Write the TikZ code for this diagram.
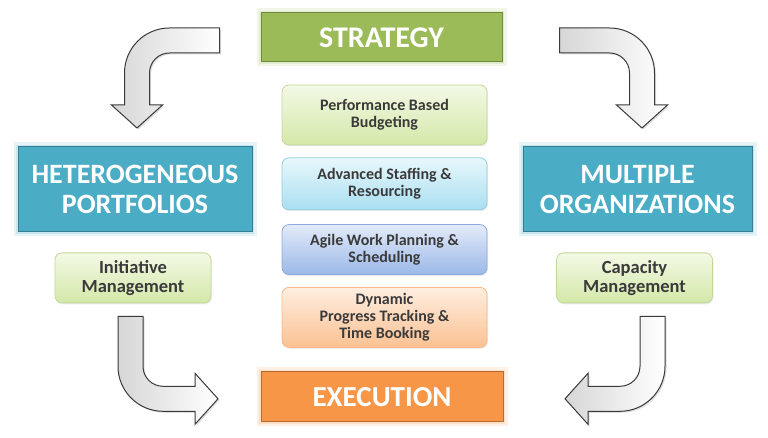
\documentclass[tikz,border=0pt]{standalone}
\usepackage{fontspec}
\setmainfont{Carlito}
\usetikzlibrary{positioning,calc,shadows}

\definecolor{stratfill}{HTML}{9BBB59}
\definecolor{stratline}{HTML}{71893F}
\definecolor{stratglow}{HTML}{D7E4BD}
\definecolor{execfill}{HTML}{F79646}
\definecolor{execline}{HTML}{B66D31}
\definecolor{execglow}{HTML}{FCD5B5}
\definecolor{portfill}{HTML}{4BACC6}
\definecolor{portline}{HTML}{357D91}
\definecolor{portglow}{HTML}{B7DEE8}
\definecolor{greentop}{HTML}{F3F9E6}
\definecolor{greenbot}{HTML}{D4E8A8}
\definecolor{greenline}{HTML}{C3D69B}
\definecolor{cyantop}{HTML}{E8F7FC}
\definecolor{cyanbot}{HTML}{A9DFF1}
\definecolor{cyanline}{HTML}{93CDDD}
\definecolor{bluetop}{HTML}{E3EAF9}
\definecolor{bluebot}{HTML}{9BB8E8}
\definecolor{blueline}{HTML}{8EAADB}
\definecolor{orangetop}{HTML}{FEEEE0}
\definecolor{orangebot}{HTML}{FBC193}
\definecolor{orangeline}{HTML}{F9B98A}
\definecolor{labelgray}{HTML}{3A3A3A}
\definecolor{arrowline}{HTML}{3A3A3A}

\tikzset{
  glow/.style={preaction={draw=#1, line width=9pt, opacity=0.35},
               preaction={draw=#1, line width=4pt, opacity=0.6}},
  bentarrow/.pic={
    \path[draw=arrowline, line width=1pt, left color=gray!32, right color=white,
          drop shadow={opacity=0.25, shadow xshift=1.5pt, shadow yshift=-1.5pt}]
      (0,0) -- (-50,0) arc[start angle=90, end angle=180, radius=45]
      -- (-95,-77) -- (-108,-77) -- (-82.5,-100) -- (-57,-77) -- (-70,-77)
      -- (-70,-45) arc[start angle=180, end angle=90, radius=20]
      -- (0,-25) -- cycle;
  }
}

\begin{document}
\begin{tikzpicture}[x=1pt, y=1pt, node distance=12pt, every node/.style={font=\bfseries}]
\tikzstyle{phase} = [rectangle, line width=1pt, text=white, align=center, inner sep=0pt,
font=\bfseries\fontsize{29}{31}\selectfont]
\tikzstyle{practice} = [rectangle, rounded corners=7pt, line width=0.8pt, align=center,
text=labelgray, minimum width=205, font=\bfseries\fontsize{16}{16.8}\selectfont,
drop shadow={opacity=0.15, shadow xshift=1pt, shadow yshift=-1.5pt}]
\tikzstyle{capability} = [practice, minimum width=156, minimum height=50, top color=greentop,
bottom color=greenbot, draw=greenline, font=\bfseries\fontsize{18.5}{18.5}\selectfont]

\useasboundingbox (0,0) rectangle (768,438);

% Nodes
\node (strategy) [phase, fill=stratfill, draw=stratline, glow=stratglow, minimum width=241,
minimum height=49, font=\bfseries\fontsize{30}{32}\selectfont] at (381.5,400.5) {STRATEGY};
\node (execution) [phase, fill=execfill, draw=execline, glow=execglow, minimum width=242,
minimum height=50] at (382,41) {EXECUTION};
\node (portfolios) [phase, fill=portfill, draw=portline, glow=portglow, minimum width=234,
minimum height=85, font=\bfseries\fontsize{28}{30}\selectfont] at (135,248.5) {HETEROGENEOUS\\PORTFOLIOS};
\node (organizations) [phase, fill=portfill, draw=portline, glow=portglow, minimum width=229,
minimum height=85, font=\bfseries\fontsize{28}{30}\selectfont] at (637.5,248.5) {MULTIPLE\\ORGANIZATIONS};
\node (initiative) [capability, below=20pt of portfolios, xshift=-2pt] {Initiative\\Management};
\node (capacity) [capability, below=20pt of organizations, xshift=-3pt] {Capacity\\Management};

\node (budgeting) [practice, minimum height=60, top color=greentop, bottom color=greenbot,
draw=greenline] at (384.5,323) {Performance Based\\Budgeting};
\node (staffing) [practice, minimum height=52, top color=cyantop, bottom color=cyanbot,
draw=cyanline, below=of budgeting] {Advanced Staffing \&\\Resourcing};
\node (planning) [practice, minimum height=50, top color=bluetop, bottom color=bluebot,
draw=blueline, below=14pt of staffing] {Agile Work Planning \&\\Scheduling};
\node (tracking) [practice, minimum height=60, top color=orangetop, bottom color=orangebot,
draw=orangeline, below=of planning] {Dynamic\\Progress Tracking \&\\Time Booking};

% Arrows
\pic at ($(strategy.west)+(-41,9.5)$) {bentarrow};
\pic[xscale=-1] at ($(strategy.east)+(57,9.5)$) {bentarrow};
\pic[rotate=90] at ($(initiative.south)+(-15,-13)$) {bentarrow};
\pic[xscale=-1, rotate=90] at ($(capacity.south)+(30.5,-13)$) {bentarrow};
\end{tikzpicture}
\end{document}
